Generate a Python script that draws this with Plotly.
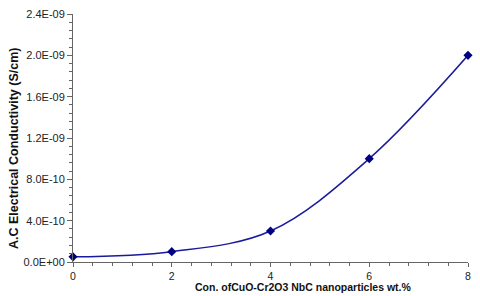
import plotly.graph_objects as go

conc = [0, 2, 4, 6, 8]
conductivity = [5e-11, 1e-10, 3e-10, 1e-9, 2e-9]
y_tickvals = [0, 4e-10, 8e-10, 1.2e-9, 1.6e-9, 2.0e-9, 2.4e-9]
y_ticktext = ["0.0E+00", "4.0E-10", "8.0E-10", "1.2E-09", "1.6E-09", "2.0E-09", "2.4E-09"]
x_tickvals = [0, 2, 4, 6, 8]
x_title = "Con. ofCuO-Cr2O3 NbC nanoparticles wt.%"
y_title = "A.C Electrical Conductivity (S/cm)"

fig = go.Figure()
fig.add_trace(go.Scatter(
    x=conc, y=conductivity, mode="lines+markers",
    line=dict(color="#1a1a9c", width=1.5, shape="spline", smoothing=1),
    marker=dict(symbol="diamond", size=7, color="#000080"),
    showlegend=False, cliponaxis=False,
))

font = "Liberation Sans, Arial, sans-serif"
fig.update_layout(
    width=480, height=296,
    margin=dict(l=73, r=12, t=14, b=34, autoexpand=False),
    paper_bgcolor="white", plot_bgcolor="white",
    font=dict(family=font, size=11, color="#222"),
)
fig.update_xaxes(
    range=[0, 8], tickvals=x_tickvals, showgrid=False, zeroline=False,
    showline=True, linecolor="#666", linewidth=1,
    ticks="outside", ticklen=4, tickcolor="#666",
    minor=dict(dtick=0.4, ticks="outside", ticklen=3, tickcolor="#666", showgrid=False),
    tickfont=dict(size=10.5),
)
fig.update_yaxes(
    range=[0, 2.4e-9], tickvals=y_tickvals, ticktext=y_ticktext, showgrid=False, zeroline=False,
    showline=True, linecolor="#666", linewidth=1,
    ticks="outside", ticklen=5, tickcolor="#666",
    minor=dict(dtick=8e-11, ticks="outside", ticklen=3, tickcolor="#666", showgrid=False),
    tickfont=dict(size=11),
)
fig.add_annotation(
    text="<b>" + x_title + "</b>", xref="paper", yref="paper",
    x=(303 - 73) / 395, y=(262 - 287) / 248, xanchor="center", yanchor="middle",
    showarrow=False, font=dict(size=10.5, color="#111"),
)
fig.add_annotation(
    text="<b>" + y_title + "</b>", xref="paper", yref="paper",
    x=(14 - 73) / 395, y=(262 - 149) / 248, xanchor="center", yanchor="middle",
    textangle=-90, showarrow=False, font=dict(size=12.5, color="#111"),
)
fig.write_html(
    "out.html",
    config={"displayModeBar": False},
    post_script="document.body.style.margin='0';document.body.style.overflow='hidden';",
)
